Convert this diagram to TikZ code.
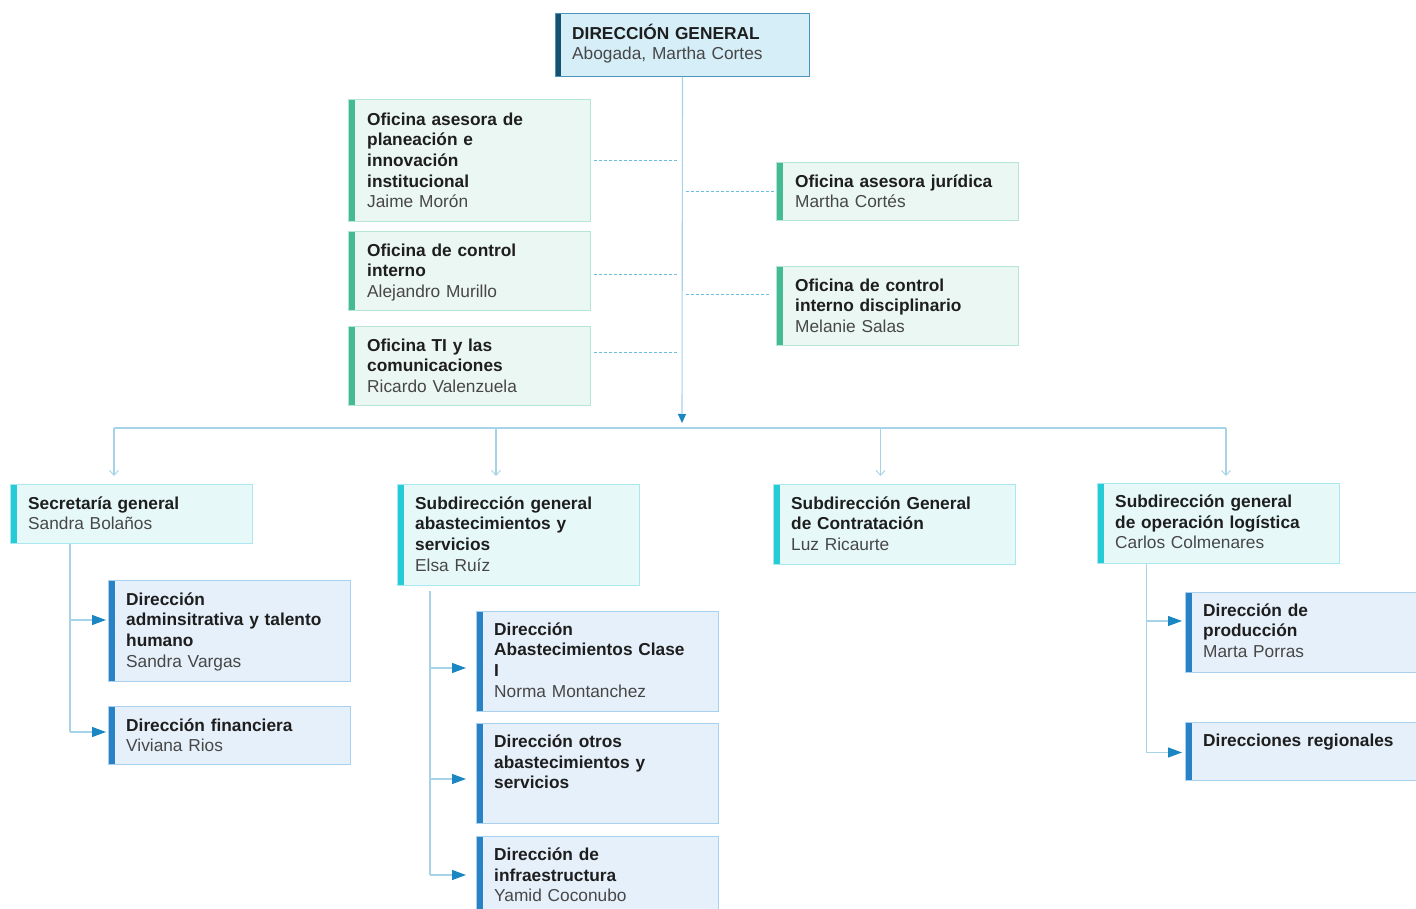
\documentclass[tikz,border=0pt]{standalone}
\usepackage{fontspec}
\setmainfont{Liberation Sans}
\usetikzlibrary{arrows.meta}
\definecolor{topfill}{HTML}{D5EEF8}
\definecolor{topdraw}{HTML}{4A93BA}
\definecolor{topbar}{HTML}{15506E}
\definecolor{gfill}{HTML}{EBF7F3}
\definecolor{gdraw}{HTML}{B5E5D5}
\definecolor{gbar}{HTML}{45BB95}
\definecolor{cfill}{HTML}{E7F8F9}
\definecolor{cdraw}{HTML}{A9E8F0}
\definecolor{cbar}{HTML}{25CCD5}
\definecolor{bfill}{HTML}{E6F0FA}
\definecolor{bdraw}{HTML}{A9D0EF}
\definecolor{bbar}{HTML}{2A82C6}
\definecolor{linec}{HTML}{A6D3E8}
\definecolor{dashc}{HTML}{6CBFE0}
\definecolor{tipc}{HTML}{1A86C2}
\definecolor{titlec}{HTML}{1E1E1E}
\definecolor{namec}{HTML}{474747}
\begin{document}
\begin{tikzpicture}[x=1pt,y=-1pt,
  orgbox/.style={draw, line width=1pt, inner sep=0pt, anchor=north west, minimum width=242pt},
  topbox/.style={orgbox, fill=topfill, draw=topdraw, minimum width=254pt,
    path picture={\fill[topbar] (path picture bounding box.north west) rectangle ([xshift=5pt]path picture bounding box.south west);}},
  gbox/.style={orgbox, fill=gfill, draw=gdraw,
    path picture={\fill[gbar] (path picture bounding box.north west) rectangle ([xshift=6pt]path picture bounding box.south west);}},
  cbox/.style={orgbox, fill=cfill, draw=cdraw,
    path picture={\fill[cbar] (path picture bounding box.north west) rectangle ([xshift=6pt]path picture bounding box.south west);}},
  bbox/.style={orgbox, fill=bfill, draw=bdraw,
    path picture={\fill[bbar] (path picture bounding box.north west) rectangle ([xshift=6pt]path picture bounding box.south west);}},
  txt/.style={anchor=north west, inner sep=0pt, text width=225pt, align=left, text=titlec,
    font=\fontsize{17.3}{20.6}\selectfont},
  conn/.style={draw=linec, line width=1.1pt},
  dline/.style={draw=dashc, line width=0.9pt, dash pattern=on 3pt off 2pt},
  barb/.style={-{Straight Barb[length=5pt,width=9pt,line width=0.9pt]}},
  tri/.style={-{Triangle[length=14pt,width=10pt,color=tipc]}}
]
\useasboundingbox (0,0) rectangle (1416,909);
\newcommand\ot[2]{\strut\bfseries #1\\\mdseries\color{namec}#2}
\newcommand\on[1]{\strut\bfseries #1}

% top
\node[topbox, minimum height=63pt] (top) at (555,13) {};
\node[txt] (ttop) at (572,23.6) {\ot{DIRECCIÓN GENERAL}{Abogada, Martha Cortes}};

% green offices
\node[gbox, minimum height=122pt] (g1) at (348,99) {};
\node[txt] (tg1) at (367,110.6) {\ot{Oficina asesora de\\planeación e\\innovación\\institucional}{Jaime Morón}};
\node[gbox, minimum height=79pt] (g2) at (348,231) {};
\node[txt] (tg2) at (367,241.6) {\ot{Oficina de control\\interno}{Alejandro Murillo}};
\node[gbox, minimum height=79pt] (g3) at (348,326) {};
\node[txt] (tg3) at (367,336.6) {\ot{Oficina TI y las\\comunicaciones}{Ricardo Valenzuela}};
\node[gbox, minimum height=58pt] (g4) at (776,162) {};
\node[txt] (tg4) at (795,172.6) {\ot{Oficina asesora jurídica}{Martha Cortés}};
\node[gbox, minimum height=79pt] (g5) at (776,266) {};
\node[txt] (tg5) at (795,276.6) {\ot{Oficina de control\\interno disciplinario}{Melanie Salas}};

% cyan row
\node[cbox, minimum height=59pt] (c1) at (10,484) {};
\node[txt] (tc1) at (28,494.6) {\ot{Secretaría general}{Sandra Bolaños}};
\node[cbox, minimum height=101pt] (c2) at (397,484) {};
\node[txt] (tc2) at (415,494.6) {\ot{Subdirección general\\abastecimientos y\\servicios}{Elsa Ruíz}};
\node[cbox, minimum height=80pt] (c3) at (773,484) {};
\node[txt] (tc3) at (791,494.6) {\ot{Subdirección General\\de Contratación}{Luz Ricaurte}};
\node[cbox, minimum height=80pt] (c4) at (1097,482.5) {};
\node[txt] (tc4) at (1115,493.1) {\ot{Subdirección general\\de operación logística}{Carlos Colmenares}};

% blue row
\node[bbox, minimum height=101pt] (b1) at (108,580) {};
\node[txt] (tb1) at (126,590.6) {\ot{Dirección\\adminsitrativa y talento\\humano}{Sandra Vargas}};
\node[bbox, minimum height=58pt] (b2) at (108,706) {};
\node[txt] (tb2) at (126,716.6) {\ot{Dirección financiera}{Viviana Rios}};
\node[bbox, minimum height=100pt] (b3) at (476,611) {};
\node[txt] (tb3) at (494,620.6) {\ot{Dirección\\Abastecimientos Clase\\I}{Norma Montanchez}};
\node[bbox, minimum height=100pt] (b4) at (476,723) {};
\node[txt] (tb4) at (494,733.1) {\on{Dirección otros\\abastecimientos y\\servicios}};
\node[bbox, minimum height=100pt] (b5) at (476,836) {};
\node[txt] (tb5) at (494,846.1) {\ot{Dirección de\\infraestructura}{Yamid Coconubo}};
\node[bbox, minimum height=80pt] (b6) at (1185,591.5) {};
\node[txt] (tb6) at (1203,601.6) {\ot{Dirección de\\producción}{Marta Porras}};
\node[bbox, minimum height=58pt] (b7) at (1185,722) {};
\node[txt] (tb7) at (1203,731.6) {\on{Direcciones regionales}};

% main trunk
\coordinate (trunkend) at (682,423);
\draw[conn, -{Triangle[length=9pt,width=8pt,color=tipc]}] (top.south) -- (trunkend);

% dashed staff lines
\coordinate (d1) at (678,160);
\coordinate (d2) at (678,274);
\coordinate (d3) at (678,352);
\coordinate (d4) at (686,191);
\coordinate (d5) at (686,294.5);
\draw[dline] ([xshift=3pt]g1.east |- d1) -- (d1);
\draw[dline] ([xshift=3pt]g2.east |- d2) -- (d2);
\draw[dline] ([xshift=3pt]g3.east |- d3) -- (d3);
\draw[dline] (d4) -- (g4.west |- d4);
\draw[dline] (d5) -- ([xshift=-6pt]g5.west |- d5);

% bus
\coordinate (bus1) at (114,428);
\coordinate (bus2) at (496,428);
\coordinate (bus3) at (880.5,428);
\coordinate (bus4) at (1226,428);
\draw[conn] (bus1) -- (bus4);
\draw[conn, barb] (bus1) -- ([yshift=8pt]c1.north -| bus1);
\draw[conn, barb] (bus2) -- ([yshift=8pt]c2.north -| bus2);
\draw[conn, barb] (bus3) -- ([yshift=8pt]c3.north -| bus3);
\draw[conn, barb] (bus4) -- ([yshift=6.5pt]c4.north -| bus4);

% secretaria branches
\coordinate (s1) at (70,620);
\coordinate (s2) at (70,732);
\draw[conn] (c1.south -| s1) -- (s2);
\draw[conn, tri, shorten >=2pt] (s1) -- (b1.west |- s1);
\draw[conn, tri, shorten >=2pt] (s2) -- (b2.west |- s2);

% abastecimientos branches
\coordinate (a1) at (430,668);
\coordinate (a2) at (430,779);
\coordinate (a3) at (430,875);
\draw[conn] ([yshift=-5pt]c2.south -| a1) -- (a3);
\draw[conn, tri, shorten >=10pt] (a1) -- (b3.west |- a1);
\draw[conn, tri, shorten >=10pt] (a2) -- (b4.west |- a2);
\draw[conn, tri, shorten >=10pt] (a3) -- (b5.west |- a3);

% logistica branches
\coordinate (l1) at (1146.5,621);
\coordinate (l2) at (1146.5,752.5);
\draw[conn] (c4.south -| l1) -- (l2);
\draw[conn, tri, shorten >=3pt] (l1) -- (b6.west |- l1);
\draw[conn, tri, shorten >=3pt] (l2) -- (b7.west |- l2);
\end{tikzpicture}
\end{document}
